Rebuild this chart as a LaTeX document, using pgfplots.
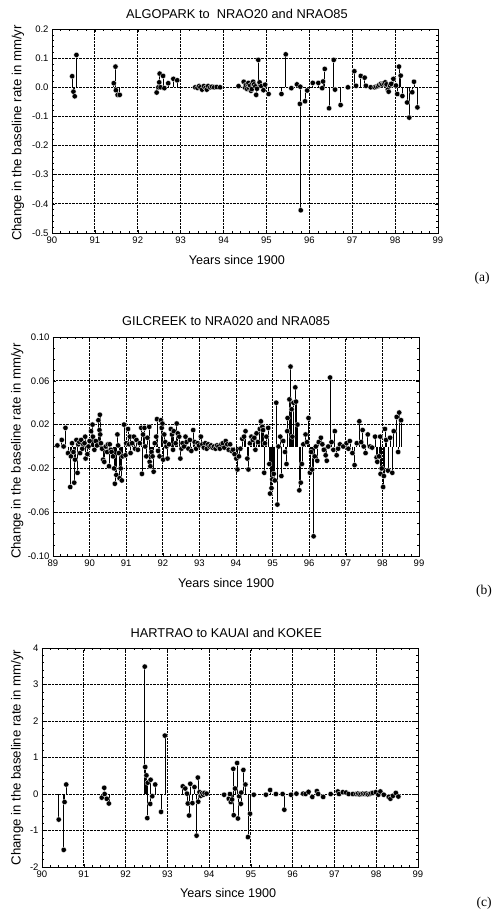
\documentclass[border=0pt]{standalone}
\usepackage{fontspec}
\setmainfont{Liberation Sans}
\newfontfamily\seriffont{Liberation Serif}
\usepackage{pgfplots}
\pgfplotsset{compat=1.18}
\pgfplotsset{
  panel/.style={
    scale only axis, anchor=north west,
    axis line style={black, line width=0.7pt},
    grid=major,
    major grid style={black, densely dotted, line width=0.8pt},
    tick align=inside,
    major tick length=3pt, minor tick length=2pt,
    every tick/.style={black, line width=0.5pt},
    /pgf/number format/assume math mode=true,
    ticklabel style={font=\fontsize{9.5}{10}\selectfont},
    xlabel style={font=\fontsize{12.6}{13}\selectfont},
    ylabel style={font=\fontsize{13.2}{14}\selectfont},
    title style={font=\fontsize{12.8}{13}\selectfont},
    xtick distance=1, minor x tick num=4,
    ylabel={Change in the baseline rate in mm/yr},
    xlabel={Years since 1900},
  },
  stem/.style={ycomb, black, line width=0.65pt, mark=*, mark size=2.7pt,
    mark options={fill=black, draw=white, line width=0.3pt}},
}
\begin{document}
\begin{tikzpicture}
\path[use as bounding box] (0,0) rectangle (494pt,-913pt);
% ---------------- (a)
\begin{axis}[panel, at={(52pt,-29pt)}, width=386pt, height=204pt,
  xmin=90, xmax=99, ymin=-0.5, ymax=0.2,
  ytick={-0.5,-0.4,-0.3,-0.2,-0.1,0,0.1,0.2},
  yticklabels={-0.5,-0.4,-0.3,-0.2,-0.1,0.0,0.1,0.2},
  minor y tick num=4,
  title={ALGOPARK to\ \ NRAO20 and NRAO85},
  title style={at={(axis description cs:0.479,1.074)}, anchor=center, yshift=-6pt},
  xlabel style={at={(axis description cs:0.479,-0.132)}, anchor=center},
  ylabel style={at={(axis description cs:-0.088,0.49)}, anchor=center},
]
\addplot[stem] coordinates {
(90.47,0.038)(90.50,-0.015)(90.53,-0.031)(90.57,0.111)
(91.44,0.014)(91.48,0.071)(91.49,-0.010)(91.53,-0.026)(91.58,-0.026)
(92.44,-0.018)(92.48,0.0)(92.50,0.017)(92.51,0.047)(92.53,0.0)(92.59,0.039)(92.62,-0.003)(92.71,0.014)(92.83,0.029)(92.92,0.024)
(93.34,0.000)(93.39,-0.002)(93.43,0.004)(93.46,0.000)(93.50,-0.008)(93.54,0.004)(93.58,-0.002)(93.61,-0.008)(93.64,0.004)(93.69,0.000)(93.73,0.002)(93.78,0.000)(93.84,0.001)(93.92,0.000)
(94.35,0.004)(94.47,0.019)(94.50,-0.001)(94.52,0.008)(94.55,-0.006)(94.56,0.012)(94.58,0.015)(94.60,-0.004)(94.62,0.006)(94.64,-0.012)(94.66,-0.006)(94.67,0.014)(94.69,0.019)(94.71,0.010)(94.74,0.003)(94.76,-0.026)(94.78,-0.005)(94.81,0.094)(94.84,0.017)(94.88,0.004)(94.93,-0.010)(94.97,0.009)(95.05,-0.023)
(95.35,-0.023)(95.45,0.113)(95.58,-0.003)(95.71,0.010)(95.78,-0.057)(95.79,0.002)(95.80,-0.422)(95.90,-0.048)(95.95,-0.011)
(96.08,0.015)(96.21,0.015)(96.30,-0.003)(96.32,0.020)(96.36,0.063)(96.46,-0.072)(96.57,0.094)(96.60,-0.008)(96.73,-0.061)(96.90,0.0)
(97.05,0.055)(97.09,0.005)(97.20,0.039)(97.29,0.033)(97.32,0.005)(97.43,0.0)
(97.52,0.000)(97.56,0.002)(97.60,0.004)(97.63,0.008)(97.67,0.012)(97.70,0.010)(97.74,0.014)(97.77,0.017)(97.80,0.010)(97.83,-0.008)(97.85,-0.015)(97.88,0.006)(97.91,0.012)
(97.96,0.029)(98.02,0.006)(98.05,-0.023)(98.09,0.071)(98.13,0.040)(98.17,-0.030)(98.28,-0.052)(98.33,-0.104)(98.40,-0.017)(98.44,0.019)(98.52,-0.069)
};
\end{axis}
% ---------------- (b)
\begin{axis}[panel, at={(53pt,-337pt)}, width=366pt, height=219pt,
  xmin=89, xmax=99, ymin=-0.1, ymax=0.1,
  ytick={-0.1,-0.06,-0.02,0.02,0.06,0.1},
  yticklabels={-0.10,-0.06,-0.02,0.02,0.06,0.10},
  minor y tick num=3,
  title={GILCREEK to NRA020 and NRA085},
  title style={at={(axis description cs:0.473,1.073)}, anchor=center, yshift=-6pt},
  xlabel style={at={(axis description cs:0.473,-0.123)}, anchor=center},
  ylabel style={at={(axis description cs:-0.098,0.479)}, anchor=center},
]
\addplot[stem] coordinates {
(89.12,0.001)(89.24,0.006)(89.29,0.0)(89.34,0.017)(89.41,-0.006)(89.47,-0.037)(89.49,-0.009)(89.52,0.003)(89.56,-0.005)(89.58,-0.033)(89.60,-0.012)(89.64,0.006)(89.67,-0.024)(89.69,0.002)(89.72,0.004)(89.74,-0.006)(89.77,0.006)(89.80,-0.002)(89.83,0.002)(89.86,0.003)(89.88,0.009)(89.89,-0.011)(89.94,-0.007)(89.97,0.0)
(90.00,0.005)(90.04,0.014)(90.08,0.020)(90.09,0.009)(90.13,-0.003)(90.17,0.005)(90.20,0.001)(90.24,0.024)(90.27,0.015)(90.28,0.029)(90.29,0.011)(90.31,0.003)(90.34,-0.002)(90.37,-0.012)(90.40,-0.014)(90.44,0.0)(90.48,-0.005)(90.50,0.002)(90.53,-0.018)(90.55,0.002)(90.58,-0.003)(90.60,-0.005)(90.64,-0.009)(90.67,-0.020)(90.69,-0.034)(90.73,-0.026)(90.76,0.011)(90.78,0.001)(90.80,-0.006)(90.82,-0.029)(90.85,-0.020)(90.88,-0.031)(90.90,-0.009)(90.94,0.020)(90.98,-0.008)
(91.00,0.003)(91.05,0.016)(91.08,0.002)(91.10,0.009)(91.12,-0.006)(91.16,0.003)(91.21,0.009)(91.24,-0.002)(91.28,0.006)(91.32,-0.003)(91.37,0.003)(91.41,0.017)(91.43,-0.025)(91.46,0.011)(91.50,0.017)(91.52,0.0)(91.55,-0.009)(91.58,0.008)(91.63,0.018)(91.64,-0.014)(91.66,-0.018)(91.69,-0.005)(91.72,-0.009)(91.75,-0.023)(91.78,0.003)(91.82,0.009)(91.84,0.025)(91.87,-0.004)(91.91,-0.009)(91.95,0.024)(91.97,0.017)(91.99,0.021)
(92.01,-0.012)(92.04,0.011)(92.07,0.004)(92.10,0.0)(92.13,-0.011)(92.17,0.002)(92.22,0.016)(92.25,0.011)(92.28,-0.003)(92.30,0.014)(92.35,0.003)(92.38,0.021)(92.41,0.012)(92.45,0.009)(92.48,-0.011)(92.51,-0.002)(92.54,0.003)(92.58,0.0)(92.62,0.009)(92.65,0.004)(92.70,-0.002)(92.74,0.006)(92.78,-0.004)(92.83,0.015)(92.87,0.004)(92.91,-0.002)(92.95,0.003)(92.99,0.001)(93.04,0.009)
(93.08,0.002)(93.12,-0.001)(93.16,0.003)(93.20,-0.002)(93.24,0.002)(93.28,0.000)(93.32,0.001)(93.36,-0.001)(93.40,0.000)(93.44,-0.002)(93.48,0.001)(93.52,0.000)(93.56,-0.002)(93.60,0.002)(93.64,0.003)(93.68,-0.001)(93.72,0.005)(93.76,0.002)(93.80,-0.003)(93.84,0.002)(93.88,-0.004)(93.92,-0.003)(93.96,-0.007)
(94.01,-0.011)(94.04,-0.021)(94.08,-0.009)(94.12,-0.002)(94.17,0.007)(94.22,0.009)(94.26,0.014)(94.31,-0.011)(94.34,-0.021)(94.38,0.003)(94.42,0.009)(94.46,0.006)(94.50,0.008)(94.53,-0.003)(94.56,0.012)(94.60,0.004)(94.65,0.016)(94.68,0.023)(94.72,0.018)(94.74,0.015)(94.77,-0.024)(94.79,0.003)(94.83,0.009)(94.88,0.017)(94.91,-0.016)(94.93,-0.043)(94.97,-0.038)(94.99,-0.030)(95.03,-0.025)(95.06,-0.031)(95.10,0.040)(95.13,-0.053)(95.16,0.0)(95.21,0.009)(95.24,-0.027)(95.29,0.005)(95.34,-0.005)(95.38,-0.016)(95.40,0.014)(95.41,0.026)(95.46,0.043)(95.49,0.073)(95.52,0.034)(95.54,0.009)(95.57,0.040)(95.62,0.054)(95.64,0.041)(95.68,0.020)(95.73,-0.040)(95.77,-0.033)(95.80,-0.016)(95.84,0.002)(95.90,0.011)(95.94,0.004)(95.98,0.026)
(96.02,-0.024)(96.05,-0.005)(96.08,-0.021)(96.12,-0.082)(96.15,-0.009)(96.18,0.0)(96.22,-0.013)(96.26,0.004)(96.32,0.008)(96.36,0.002)(96.40,-0.003)(96.45,-0.008)(96.48,-0.013)(96.52,0.0)(96.57,0.063)(96.61,0.004)(96.66,-0.003)(96.70,0.014)(96.75,-0.008)(96.79,-0.002)(96.84,0.002)(96.93,0.0)
(97.02,0.003)(97.07,-0.002)(97.11,0.005)(97.18,-0.006)(97.24,-0.017)(97.30,0.003)(97.37,0.023)(97.42,0.004)(97.46,0.015)(97.49,0.0)(97.54,-0.006)(97.60,0.011)(97.66,0.0)(97.72,-0.001)(97.80,0.009)(97.84,-0.010)(97.86,-0.014)(97.91,-0.009)(97.94,0.009)(97.95,-0.025)(97.98,-0.020)
(98.02,-0.037)(98.04,-0.027)(98.07,0.016)(98.10,0.006)(98.15,-0.022)(98.21,0.008)(98.27,-0.024)(98.31,0.014)(98.39,0.027)(98.43,-0.005)(98.46,0.031)(98.51,0.024)
};
\end{axis}
% ---------------- (c)
\begin{axis}[panel, at={(42pt,-648pt)}, width=376pt, height=219pt,
  xmin=90, xmax=99, ymin=-2, ymax=4,
  ytick={-2,-1,0,1,2,3,4},
  yticklabels={-2,-1,0,1,2,3,4},
  minor y tick num=4,
  title={HARTRAO to KAUAI and KOKEE},
  title style={at={(axis description cs:0.49,1.068)}, anchor=center, yshift=-6pt},
  xlabel style={at={(axis description cs:0.495,-0.119)}, anchor=center},
  ylabel style={at={(axis description cs:-0.066,0.5)}, anchor=center},
]
\addplot[stem] coordinates {
(90.40,-0.70)(90.52,-1.53)(90.54,-0.22)(90.58,0.26)
(91.43,-0.10)(91.49,0.17)(91.50,0.0)(91.55,-0.13)(91.60,-0.26)
(92.46,3.49)(92.47,0.74)(92.50,0.51)(92.52,-0.66)(92.53,0.31)(92.59,-0.27)(92.60,0.39)(92.64,-0.06)(92.71,0.26)(92.85,-0.49)(92.94,1.60)
(93.37,0.21)(93.43,0.15)(93.47,0.01)(93.49,-0.26)(93.52,-0.59)(93.55,0.28)(93.60,-0.25)(93.65,0.19)(93.70,-1.14)(93.73,0.45)(93.74,-0.21)
(93.77,0.05)(93.80,-0.05)(93.83,0.02)(93.86,-0.02)(93.89,0.03)(93.94,0.01)
(94.36,-0.02)(94.47,-0.13)(94.50,0.0)(94.52,-0.22)(94.55,-0.15)(94.58,0.69)(94.59,-0.58)(94.62,0.15)(94.67,0.85)(94.69,-0.67)(94.72,-0.06)(94.76,-0.27)(94.77,0.04)(94.82,0.66)(94.87,0.26)(94.93,-1.18)(94.98,-0.54)(95.07,-0.02)
(95.36,-0.02)(95.46,0.11)(95.60,0.0)(95.76,0.0)(95.80,-0.43)(95.96,-0.02)
(96.09,0.01)(96.25,0.01)(96.31,0.0)(96.38,0.06)(96.47,-0.08)(96.58,0.08)(96.61,0.0)(96.73,-0.08)(96.91,0.0)
(97.08,0.07)(97.11,0.0)(97.20,0.05)(97.28,0.04)(97.34,0.0)(97.44,0.0)
(97.52,0.0)(97.56,0.01)(97.60,-0.01)(97.64,0.0)(97.68,0.01)(97.72,0.0)(97.76,0.01)(97.80,-0.01)(97.84,0.0)(97.88,0.02)(97.92,0.03)
(97.99,0.05)(98.05,-0.02)(98.10,0.07)(98.18,-0.02)(98.30,-0.08)(98.34,-0.13)(98.40,-0.05)(98.47,0.03)(98.53,-0.07)
};
\end{axis}
\node[font=\seriffont\fontsize{13.5}{14}\selectfont] at (482pt,-278pt) {(a)};
\node[font=\seriffont\fontsize{13.5}{14}\selectfont] at (484pt,-591pt) {(b)};
\node[font=\seriffont\fontsize{13.5}{14}\selectfont] at (484pt,-903pt) {(c)};
\end{tikzpicture}
\end{document}
